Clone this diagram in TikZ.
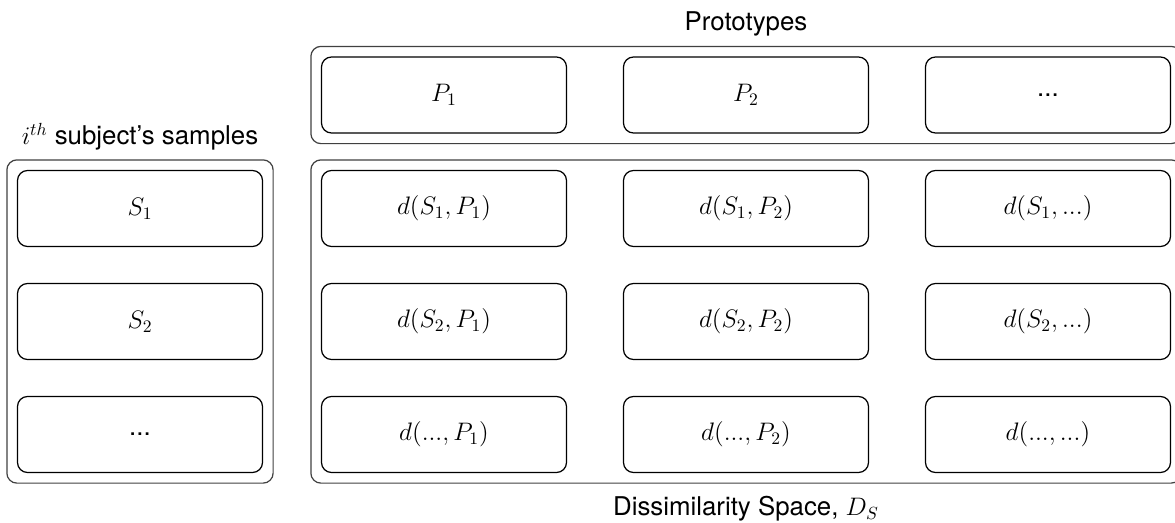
\documentclass[tikz,border=0pt]{standalone}
\usepackage{fontspec}
\setmainfont{TeX Gyre Heros}
\usetikzlibrary{fit,positioning}

\begin{document}
\begin{tikzpicture}[font=\fontsize{14.7}{17}\selectfont,
    c/.style={draw,line width=0.7pt,rounded corners=0.2cm,minimum width=4.9cm,
      minimum height=1.52cm,align=center},
    g/.style={draw=black!75,line width=0.7pt,rounded corners=0.2cm,inner sep=0.2cm}]
  \useasboundingbox (0,0) rectangle (23.5,-10.44);
  % prototypes row
  \node[c] (p1) at (8.88,-1.9) {$P_1$};
  \node[c] (p2) at (14.92,-1.9) {$P_2$};
  \node[c] (p3) at (20.96,-1.9) {...};
  % samples column
  \node[c] (s1) at (2.8,-4.17) {$S_1$};
  \node[c] (s2) at (2.8,-6.43) {$S_2$};
  \node[c] (s3) at (2.8,-8.69) {...};
  % dissimilarity grid
  \node[c] (d11) at (8.88,-4.17) {$d(S_1,P_1)$};
  \node[c] (d12) at (14.92,-4.17) {$d(S_1,P_2)$};
  \node[c] (d13) at (20.96,-4.17) {$d(S_1,...)$};
  \node[c] (d21) at (8.88,-6.43) {$d(S_2,P_1)$};
  \node[c] (d22) at (14.92,-6.43) {$d(S_2,P_2)$};
  \node[c] (d23) at (20.96,-6.43) {$d(S_2,...)$};
  \node[c] (d31) at (8.88,-8.69) {$d(...,P_1)$};
  \node[c] (d32) at (14.92,-8.69) {$d(...,P_2)$};
  \node[c] (d33) at (20.96,-8.69) {$d(...,...)$};
  % groups
  \node[g,fit=(p1)(p3)] (protos) {};
  \node[g,fit=(s1)(s3)] (samples) {};
  \node[g,fit=(d11)(d33)] (dspace) {};
  \node[above=0.3cm of protos.north,anchor=base] (ptitle) {Prototypes};
  \node[above=0.3cm of samples.north,anchor=base] (stitle) {$i^{th}$ subject's samples};
  \node[below=0.64cm of dspace.south,anchor=base] (dtitle) {Dissimilarity Space, $D_S$};
\end{tikzpicture}
\end{document}
